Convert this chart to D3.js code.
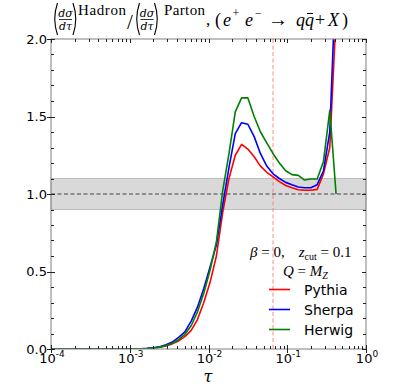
<!DOCTYPE html>
<html>
<head>
<meta charset="utf-8">
<script src="https://cdn.jsdelivr.net/npm/d3@7"></script>
<style>
body{margin:0;background:#fff;}
svg{display:block;}
text{font-family:"DejaVu Sans",sans-serif;fill:#000;}
.math{font-family:"Liberation Serif","DejaVu Serif",serif;}
.greek{font-family:"DejaVu Serif",serif;}
</style>
</head>
<body>
<svg id="chart" width="407" height="389"></svg>
<script>
//hadronisation correction, ratio hadron/parton level vs tau
var tau = [1.0e-4, 3.162e-4, 6.607e-4, 9.550e-4, 1.148e-3, 1.380e-3, 1.660e-3, 1.995e-3,
	2.399e-3, 2.884e-3, 3.467e-3, 4.169e-3, 5.012e-3, 6.026e-3, 7.244e-3, 8.710e-3,
	1.047e-2, 1.259e-2, 1.514e-2, 1.820e-2, 2.188e-2, 2.630e-2, 3.162e-2, 3.802e-2,
	4.571e-2, 5.495e-2, 6.607e-2, 7.943e-2, 9.550e-2, 0.1148, 0.1380, 0.1660,
	0.1995, 0.2399, 0.2884, 0.3467, 0.4169];

var pythia = [0, 0, 0, 0, 0.001, 0.001, 0.003, 0.006,
	0.011, 0.020, 0.033, 0.052, 0.080, 0.120, 0.190, 0.300,
	0.430, 0.600, 0.880, 1.100, 1.250, 1.320, 1.290, 1.240,
	1.180, 1.140, 1.110, 1.080, 1.055, 1.040, 1.027, 1.024,
	1.024, 1.030, 1.130, 1.300, 2.150];

var sherpa = [0, 0, 0, 0, 0.001, 0.002, 0.004, 0.008,
	0.015, 0.027, 0.045, 0.075, 0.110, 0.180, 0.270, 0.390,
	0.530, 0.670, 0.930, 1.170, 1.390, 1.460, 1.450, 1.370,
	1.260, 1.180, 1.130, 1.100, 1.075, 1.060, 1.045, 1.040,
	1.040, 1.060, 1.150, 1.400, 2.450];

var herwig = [0, 0, 0, 0, 0.001, 0.001, 0.003, 0.006,
	0.012, 0.022, 0.037, 0.060, 0.095, 0.150, 0.240, 0.360,
	0.510, 0.690, 1.020, 1.260, 1.530, 1.620, 1.620, 1.500,
	1.400, 1.330, 1.260, 1.200, 1.150, 1.125, 1.120, 1.090,
	1.097, 1.097, 1.210, 1.540, 1.000];

var xDecades = [-4, -3, -2, -1, 0];
var yMajor = [0, 0.5, 1.0, 1.5, 2.0];
var tauCut = 0.066;
var band = [0.9, 1.1];
var seriesNames = ["Pythia", "Sherpa", "Herwig"];

var colorMap = {Pythia: "#ff0000", Sherpa: "#0000ff", Herwig: "#008000"};

var margin = {top: 39, right: 41, bottom: 40, left: 51};
var width = 407 - margin.left - margin.right,
	height = 389 - margin.top - margin.bottom;

var svg = d3.select("#chart");
var g = svg.append("g")
	.attr("transform", "translate(" + margin.left + "," + margin.top + ")");

var x = d3.scaleLog().domain([1e-4, 1]).range([0, width]);
var y = d3.scaleLinear().domain([0, 2]).range([height, 0]);

g.append("clipPath").attr("id", "plotClip")
	.append("rect").attr("width", width).attr("height", height);

//grey band
g.append("rect")
	.attr("x", 0).attr("width", width)
	.attr("y", y(band[1])).attr("height", y(band[0]) - y(band[1]))
	.style("fill", "#d9d9d9")
	.style("stroke", "#bdbdbd")
	.style("stroke-width", 1);

//reference lines
g.append("line")
	.attr("x1", 0).attr("x2", width)
	.attr("y1", y(1)).attr("y2", y(1))
	.style("stroke", "#444")
	.style("stroke-width", 1)
	.style("stroke-dasharray", "4,2.5");

g.append("line")
	.attr("x1", x(tauCut)).attr("x2", x(tauCut))
	.attr("y1", 0).attr("y2", height)
	.style("stroke", "#ff7a7a")
	.style("stroke-width", 0.9)
	.style("stroke-dasharray", "4,2.5");

//curves
var series = [
	{name: "Pythia", values: pythia},
	{name: "Sherpa", values: sherpa},
	{name: "Herwig", values: herwig}
];

var line = d3.line()
	.x(function(d){ return x(d[0]); })
	.y(function(d){ return y(d[1]); });

g.append("g").attr("clip-path", "url(#plotClip)")
	.selectAll("path")
	.data(series)
	.enter()
	.append("path")
	.attr("d", function(d){
		return line(tau.map(function(t, i){ return [t, d.values[i]]; }));
	})
	.style("fill", "none")
	.style("stroke", function(d){ return colorMap[d.name]; })
	.style("stroke-width", 1.6)
	.style("stroke-linejoin", "round");

//frame
g.append("rect")
	.attr("width", width).attr("height", height)
	.style("fill", "none")
	.style("stroke", "#808080")
	.style("stroke-width", 1);

//ticks
var tickCol = "#222";
var ticks = g.append("g").style("stroke", tickCol).style("stroke-width", 1);

var yMinor = d3.range(0, 2.0001, 0.1);
yMinor.forEach(function(v){
	var major = Math.abs(v * 2 - Math.round(v * 2)) < 1e-6;
	var yy = Math.round(y(v)) + 0.5;
	if(major){
		ticks.append("line").attr("x1", -4).attr("x2", 4).attr("y1", yy).attr("y2", yy);
		ticks.append("line").attr("x1", width - 4).attr("x2", width).attr("y1", yy).attr("y2", yy);
	} else {
		ticks.append("line").attr("x1", 0).attr("x2", 3).attr("y1", yy).attr("y2", yy);
		ticks.append("line").attr("x1", width - 3).attr("x2", width).attr("y1", yy).attr("y2", yy);
	}
});

xDecades.forEach(function(e){
	var base = Math.pow(10, e);
	var xx = Math.round(x(base)) + 0.5;
	ticks.append("line").attr("x1", xx).attr("x2", xx).attr("y1", height - 4).attr("y2", height + 4);
	ticks.append("line").attr("x1", xx).attr("x2", xx).attr("y1", 0).attr("y2", 4);
	if(e < 0){
		for(var m = 2; m < 10; m++){
			var xm = Math.round(x(base * m)) + 0.5;
			ticks.append("line").attr("x1", xm).attr("x2", xm).attr("y1", height - 3).attr("y2", height);
			ticks.append("line").attr("x1", xm).attr("x2", xm).attr("y1", 0).attr("y2", 3);
		}
	}
});

//tick labels
g.selectAll(".ylab")
	.data(yMajor)
	.enter()
	.append("text")
	.attr("class", "ylab")
	.attr("x", -4)
	.attr("y", function(d){ return y(d); })
	.attr("dy", "0.36em")
	.attr("text-anchor", "end")
	.style("font-size", "13px")
	.text(function(d){ return d.toFixed(1); });

var xl = g.selectAll(".xlab")
	.data(xDecades)
	.enter()
	.append("text")
	.attr("class", "xlab")
	.attr("x", function(d){ return x(Math.pow(10, d)) + 1; })
	.attr("y", height + 13.5)
	.attr("text-anchor", "middle")
	.style("font-size", "13px");
xl.append("tspan").text("10");
xl.append("tspan")
	.attr("dy", -5.5)
	.style("font-size", "9px")
	.text(function(d){ return d < 0 ? "-" + (-d) : "" + d; });

//axis label
svg.append("text")
	.attr("class", "greek")
	.attr("x", 208).attr("y", 382)
	.attr("text-anchor", "middle")
	.style("font-size", "16px")
	.style("font-style", "italic")
	.text("\u03c4");

//title
var title = svg.append("g").attr("class", "title");

function paren(x0, left){
	var top = 3, bot = 35, w = 4.5;
	var p = left ? ("M" + (x0 + w) + "," + top + " Q" + (x0 - 1) + "," + ((top + bot) / 2) + " " + (x0 + w) + "," + bot)
		: ("M" + x0 + "," + top + " Q" + (x0 + w + 1) + "," + ((top + bot) / 2) + " " + x0 + "," + bot);
	title.append("path").attr("d", p)
		.style("fill", "none").style("stroke", "#000").style("stroke-width", 1.1);
}

function frac(cx){
	title.append("text").attr("class", "greek")
		.attr("x", cx).attr("y", 16.5).attr("text-anchor", "middle")
		.style("font-size", "11px").style("font-style", "italic").text("d\u03c3");
	title.append("line").attr("x1", cx - 6.5).attr("x2", cx + 6.5)
		.attr("y1", 19.5).attr("y2", 19.5).style("stroke", "#000").style("stroke-width", 0.8);
	title.append("text").attr("class", "greek")
		.attr("x", cx).attr("y", 29.5).attr("text-anchor", "middle")
		.style("font-size", "11px").style("font-style", "italic").text("d\u03c4");
}

paren(53, true);
frac(65.5);
paren(73, false);
title.append("text").attr("class", "math")
	.attr("x", 78).attr("y", 15)
	.attr("textLength", 48).attr("lengthAdjust", "spacing")
	.style("font-size", "15px").text("Hadron");
title.append("text").attr("class", "math")
	.attr("x", 127).attr("y", 29)
	.style("font-size", "21px").text("/");
paren(135, true);
frac(147);
paren(154.5, false);
title.append("text").attr("class", "math")
	.attr("x", 164).attr("y", 15)
	.attr("textLength", 41).attr("lengthAdjust", "spacing")
	.style("font-size", "15px").text("Parton");
title.append("text").attr("class", "math")
	.attr("x", 206).attr("y", 25)
	.style("font-size", "17px").text(",");

var glyphs = [
	{t: "(", x: 215, it: false, sup: false},
	{t: "e", x: 223, it: true, sup: false},
	{t: "+", x: 232.5, it: false, sup: true},
	{t: "e", x: 245, it: true, sup: false},
	{t: "\u2212", x: 255, it: false, sup: true},
	{t: "\u2192", x: 268, it: false, sup: false},
	{t: "q", x: 296, it: true, sup: false},
	{t: "q", x: 305, it: true, sup: false},
	{t: "+", x: 315, it: false, sup: false},
	{t: "X", x: 328, it: true, sup: false},
	{t: ")", x: 342, it: false, sup: false}
];
glyphs.forEach(function(d){
	title.append("text").attr("class", "math")
		.attr("x", d.x).attr("y", d.sup ? 17 : 25.5)
		.style("font-size", d.sup ? "12px" : (d.t == "\u2192" ? "20px" : "18px"))
		.style("font-style", d.it ? "italic" : "normal")
		.text(d.t);
});
//bar over second q
title.append("line").attr("x1", 307).attr("x2", 313)
	.attr("y1", 13.5).attr("y2", 13.5).style("stroke", "#000").style("stroke-width", 1);

//legend
var lg = svg.append("g").attr("class", "legend");
var t1 = lg.append("text").attr("class", "math")
	.attr("x", 250).attr("y", 257).style("font-size", "15px");
t1.append("tspan").style("font-style", "italic").text("\u03b2");
t1.append("tspan").text(" = 0,");
t1.append("tspan").attr("dx", 14).style("font-style", "italic").text("z");
t1.append("tspan").attr("dy", 3).style("font-size", "10px").text("cut");
t1.append("tspan").attr("dy", -3).text(" = 0.1");

var t2 = lg.append("text").attr("class", "math")
	.attr("x", 283).attr("y", 276).style("font-size", "15px");
t2.append("tspan").style("font-style", "italic").text("Q");
t2.append("tspan").text(" = ");
t2.append("tspan").style("font-style", "italic").text("M");
t2.append("tspan").attr("dy", 3).style("font-size", "10px").style("font-style", "italic").text("Z");

var entry = lg.selectAll(".entry")
	.data(seriesNames)
	.enter()
	.append("g")
	.attr("class", "entry")
	.attr("transform", function(d, i){ return "translate(269," + (289.5 + i * 20) + ")"; });
entry.append("line")
	.attr("x1", 0).attr("x2", 21)
	.style("stroke", function(d){ return colorMap[d]; })
	.style("stroke-width", 1.6);
entry.append("text")
	.attr("x", 35).attr("y", 5)
	.style("font-size", "14px")
	.text(function(d){ return d; });
</script>
</body>
</html>
